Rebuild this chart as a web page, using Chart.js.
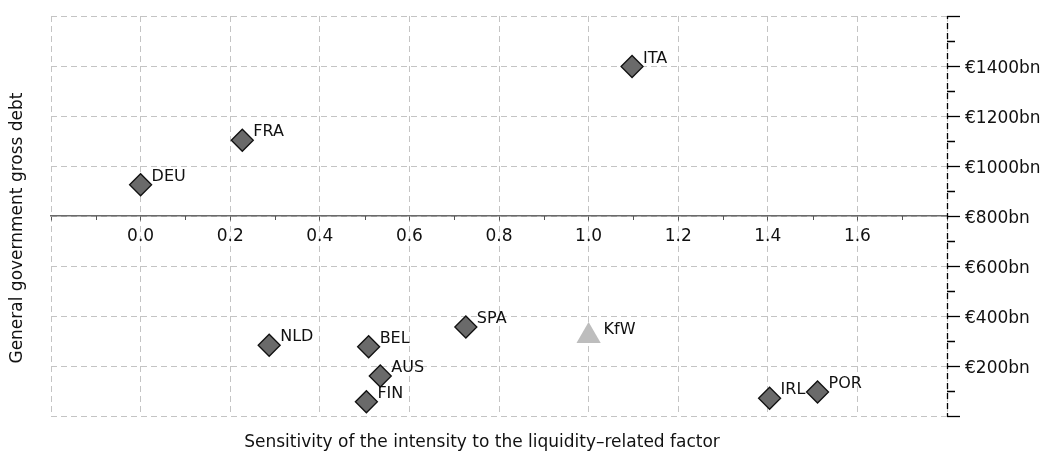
<!DOCTYPE html>
<html lang="en">
<head>
<meta charset="UTF-8">
<title>Gross debt vs liquidity sensitivity</title>
<script src="https://cdn.jsdelivr.net/npm/chart.js"></script>
<style>
  body { margin: 0; background: #fff; }
</style>
</head>
<body>
<canvas id="debtChart" width="1044" height="454"></canvas>
<script>
// countries: sensitivity to the liquidity factor (x) and gross debt in bn euro (y)
const countries = ['DEU', 'FRA', 'ITA', 'NLD', 'BEL', 'AUS', 'FIN', 'SPA', 'IRL', 'POR'];
const sensitivity = [0.0, 0.227, 1.097, 0.287, 0.509, 0.535, 0.504, 0.726, 1.404, 1.511];
const grossDebt = [925, 1103, 1398, 283, 277, 160, 57, 356, 71, 96];

// agency point
const agencies = ['KfW'];
const agencySensitivity = [1.0];
const agencyDebt = [320];

// axes
const xTicks = [-0.2, 0.0, 0.2, 0.4, 0.6, 0.8, 1.0, 1.2, 1.4, 1.6, 1.8];
const xTickLabels = ['', '0.0', '0.2', '0.4', '0.6', '0.8', '1.0', '1.2', '1.4', '1.6', ''];
const yTicks = [0, 200, 400, 600, 800, 1000, 1200, 1400, 1600];
const yTickLabels = ['', '€200bn', '€400bn', '€600bn', '€800bn', '€1000bn', '€1200bn', '€1400bn', ''];

const FONT = 'DejaVu Sans';

const decorations = {
    id: 'decorations',
    afterDatasetsDraw(chart) {
        const ctx = chart.ctx;
        ctx.save();
        ctx.font = '16px ' + FONT;
        ctx.fillStyle = '#111';
        ctx.textAlign = 'left';
        ctx.textBaseline = 'middle';
        chart.data.datasets.forEach((ds, i) => {
            const meta = chart.getDatasetMeta(i);
            meta.data.forEach((pt, j) => {
                ctx.fillText(ds.names[j], pt.x + ds.labelDx, pt.y + ds.labelDy);
            });
        });
        ctx.restore();
    },
    afterDraw(chart) {
        const {ctx, chartArea} = chart;
        const x = chart.scales.x, y = chart.scales.y;
        ctx.save();
        // right axis line, dashed black
        ctx.strokeStyle = '#000';
        ctx.lineWidth = 1.3;
        ctx.setLineDash([6, 4]);
        ctx.lineDashOffset = 3;
        ctx.beginPath();
        ctx.moveTo(chartArea.right + 0.5, chartArea.top);
        ctx.lineTo(chartArea.right + 0.5, chartArea.bottom);
        ctx.stroke();
        ctx.setLineDash([]);

        // minor ticks half way between the major ones
        ctx.beginPath();
        for (let i = 0; i < yTicks.length - 1; i++) {
            const py = Math.round(y.getPixelForValue((yTicks[i] + yTicks[i + 1]) / 2)) + 0.5;
            ctx.moveTo(chartArea.right, py);
            ctx.lineTo(chartArea.right + 8, py);
        }
        ctx.stroke();

        const axisY = Math.round(y.getPixelForValue(800));
        ctx.strokeStyle = '#555';
        ctx.lineWidth = 1;
        ctx.beginPath();
        for (let i = 0; i < xTicks.length - 1; i++) {
            const px = Math.round(x.getPixelForValue((xTicks[i] + xTicks[i + 1]) / 2)) + 0.5;
            ctx.moveTo(px, axisY);
            ctx.lineTo(px, axisY + 4);
        }
        ctx.stroke();

        // axis titles
        ctx.fillStyle = '#111';
        ctx.font = '17px ' + FONT;
        ctx.textAlign = 'center';
        ctx.textBaseline = 'middle';
        ctx.fillText('Sensitivity of the intensity to the liquidity–related factor', 482, 443);
        ctx.translate(18, 228);
        ctx.rotate(-Math.PI / 2);
        ctx.fillText('General government gross debt', 0, 0);
        ctx.restore();
    }
};

new Chart(document.getElementById('debtChart'), {
    type: 'scatter',
    data: {
        datasets: [
            {
                label: 'Countries',
                names: countries,
                labelDx: 11,
                labelDy: -8,
                data: countries.map((c, i) => ({x: sensitivity[i], y: grossDebt[i]})),
                pointStyle: 'rectRot',
                pointRadius: 11,
                pointHoverRadius: 11,
                backgroundColor: '#6a6a6a',
                borderColor: '#111',
                borderWidth: 1.3
            },
            {
                label: 'Agency',
                names: agencies,
                labelDx: 15,
                labelDy: -6,
                data: agencies.map((a, i) => ({x: agencySensitivity[i], y: agencyDebt[i]})),
                pointStyle: 'triangle',
                pointRadius: 14,
                pointHoverRadius: 14,
                backgroundColor: '#bdbdbd',
                borderColor: '#bdbdbd',
                borderWidth: 0
            }
        ]
    },
    options: {
        responsive: false,
        animation: false,
        layout: { padding: { left: 51, top: 16, bottom: 38, right: 0 } },
        plugins: {
            legend: { display: false },
            tooltip: { enabled: false }
        },
        scales: {
            x: {
                type: 'linear',
                min: -0.2,
                max: 1.8,
                position: { y: 800 },
                afterBuildTicks: s => { s.ticks = xTicks.map(v => ({value: v})); },
                grid: { color: '#c4c4c4', tickColor: '#555', tickLength: 4 },
                border: { color: '#6a6a6a', width: 1.5, dash: [6, 4] },
                ticks: {
                    autoSkip: false,
                    maxRotation: 0,
                    padding: 6,
                    color: '#111',
                    font: { family: FONT, size: 17 },
                    callback: (v, i) => xTickLabels[i]
                }
            },
            y: {
                type: 'linear',
                min: 0,
                max: 1600,
                position: 'right',
                afterBuildTicks: s => { s.ticks = yTicks.map(v => ({value: v})); },
                afterFit: s => { s.width = 97; },
                grid: { color: '#c4c4c4', tickColor: '#000', tickLength: 13, tickWidth: 1.3 },
                border: { display: false, dash: [6, 4] },
                ticks: {
                    autoSkip: false,
                    padding: 5,
                    labelOffset: 3,
                    color: '#111',
                    font: { family: FONT, size: 17 },
                    callback: (v, i) => yTickLabels[i]
                }
            }
        }
    },
    plugins: [decorations]
});
</script>
</body>
</html>
